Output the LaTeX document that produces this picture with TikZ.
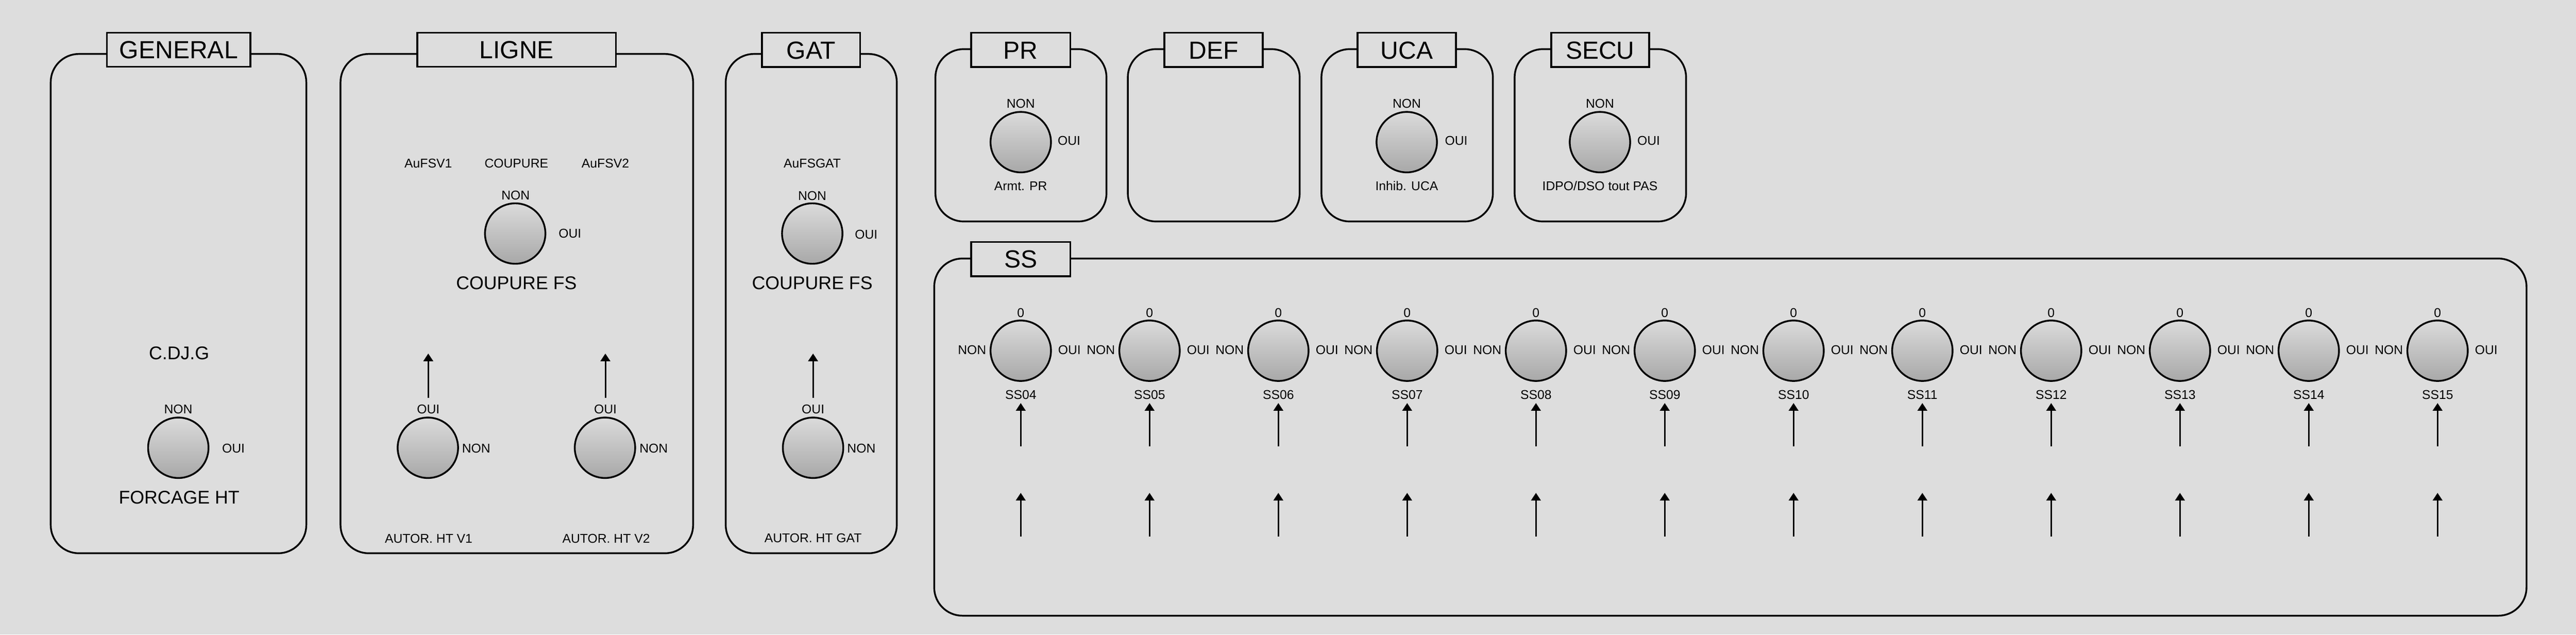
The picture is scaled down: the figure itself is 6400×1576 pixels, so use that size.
\documentclass[tikz,border=0pt]{standalone}
\usepackage{fontspec}
\setmainfont{Liberation Sans}
\usetikzlibrary{arrows.meta}
\definecolor{bg}{HTML}{DDDDDD}
\definecolor{ktop}{HTML}{DBDBDB}
\definecolor{kbot}{HTML}{A8A8A8}
\begin{document}
\begin{tikzpicture}[x=0.01cm, y=-0.01cm, line width=1.25pt,
  panel/.style={draw, rounded corners=0.7cm},
  ttl/.style={draw, fill=bg, minimum height=0.85cm, inner sep=0pt,
    font=\fontsize{17.5}{20}\selectfont, text height=12.5pt, text depth=0pt},
  knob/.style={circle, draw, minimum size=1.5cm, inner sep=0pt, top color=ktop, bottom color=kbot},
  lbl/.style={inner sep=0pt, font=\fontsize{9}{10}\selectfont, text height=6.45pt, text depth=0pt},
  mid/.style={inner sep=0pt, font=\fontsize{13}{15}\selectfont, text height=9.3pt, text depth=0pt},
  arr/.style={-{Triangle[length=5.4pt,width=6.8pt]}, line width=1.1pt}]
\fill[bg] (0,0) rectangle (6400,1576);
\useasboundingbox (0,0) rectangle (6400,1576);

% ---------- panels ----------
\draw[panel] (126,134) rectangle (761,1374);
\draw[panel] (846,134) rectangle (1722,1374);
\draw[panel] (1803,134) rectangle (2228,1374);
\draw[panel] (2324,122) rectangle (2749,550);
\draw[panel] (2802,122) rectangle (3229,550);
\draw[panel] (3283,122) rectangle (3709,550);
\draw[panel] (3763,122) rectangle (4189,550);
\draw[panel] (2321,642) rectangle (6277,1529);

% ---------- titles ----------
\node[ttl, minimum width=3.56cm] (tgen) at (444,123.5) {GENERAL};
\node[ttl, minimum width=4.93cm] (tlig) at (1283.5,123.5) {LIGNE};
\node[ttl, minimum width=2.44cm] (tgat) at (2015,124) {GAT};
\node[ttl, minimum width=2.46cm] (tpr) at (2536,124) {PR};
\node[ttl, minimum width=2.44cm] (tdef) at (3015,124) {DEF};
\node[ttl, minimum width=2.44cm] (tuca) at (3495,124) {UCA};
\node[ttl, minimum width=2.43cm] (tsecu) at (3975.5,124) {SECU};
\node[ttl, minimum width=2.46cm] (tss) at (2536,643.5) {SS};

% ---------- GENERAL ----------
\node[mid] (cdjg) at (445,877) {C.DJ.G};
\node[knob] (kgen) at (443,1112) {};
\node[lbl] (kgen-n) at (443,1016) {NON};
\node[lbl] (kgen-o) at (580,1113) {OUI};
\node[mid] (forc) at (445,1235) {FORCAGE HT};

% ---------- LIGNE ----------
\node[lbl] (aufsv1) at (1064,405) {AuFSV1};
\node[lbl] (coup) at (1283,405) {COUPURE};
\node[lbl] (aufsv2) at (1504,405) {AuFSV2};
\node[knob] (klig) at (1280,580) {};
\node[lbl] (klig-n) at (1281,485) {NON};
\node[lbl] (klig-o) at (1416,580) {OUI};
\node[mid] (cfs1) at (1283,703) {COUPURE FS};

\node[knob] (kv1) at (1063,1112) {};
\node[lbl] (kv1-o) at (1064,1016) {OUI};
\node[lbl] (kv1-n) at (1183,1113) {NON};
\coordinate (av1s) at (1064,988);
\coordinate (av1e) at (1064,878);
\draw[arr] (av1s) -- (av1e);
\node[lbl] (autv1) at (1065,1337) {AUTOR. HT V1};

\node[knob] (kv2) at (1503,1112) {};
\node[lbl] (kv2-o) at (1504,1016) {OUI};
\node[lbl] (kv2-n) at (1624,1113) {NON};
\coordinate (av2s) at (1504,988);
\coordinate (av2e) at (1504,878);
\draw[arr] (av2s) -- (av2e);
\node[lbl] (autv2) at (1506,1337) {AUTOR. HT V2};

% ---------- GAT ----------
\node[lbl] (aufsgat) at (2018,405) {AuFSGAT};
\node[knob] (kgat) at (2018,580) {};
\node[lbl] (kgat-n) at (2018,486) {NON};
\node[lbl] (kgat-o) at (2152,582) {OUI};
\node[mid] (cfs2) at (2018,702) {COUPURE FS};

\node[knob] (kgat2) at (2020,1112) {};
\node[lbl] (kgat2-o) at (2020,1016) {OUI};
\node[lbl] (kgat2-n) at (2140,1113) {NON};
\coordinate (agats) at (2020,988);
\coordinate (agate) at (2020,878);
\draw[arr] (agats) -- (agate);
\node[lbl] (autgat) at (2020,1336) {AUTOR. HT GAT};

% ---------- PR / UCA / SECU ----------
\node[knob] (kpr) at (2536,353) {};
\node[lbl] (kpr-n) at (2536,257) {NON};
\node[lbl] (kpr-o) at (2656,349) {OUI};
\node[lbl] (armt) at (2536,462) {Armt. PR};

\node[knob] (kuca) at (3495,353) {};
\node[lbl] (kuca-n) at (3495,257) {NON};
\node[lbl] (kuca-o) at (3618,349) {OUI};
\node[lbl] (inhib) at (3495,462) {Inhib. UCA};

\node[knob] (ksecu) at (3975,353) {};
\node[lbl] (ksecu-n) at (3975,257) {NON};
\node[lbl] (ksecu-o) at (4096,349) {OUI};
\node[lbl] (idpo) at (3975,462) {IDPO/DSO tout PAS};

% ---------- SS ----------
\foreach \i [count=\k from 0] in {04,05,06,07,08,09,10,11,12,13,14,15} {
  \node[knob] (ss\i) at (2536+320*\k,871) {};
  \node[lbl] (ss\i-z) at (2536+320*\k,777) {0};
  \node[lbl] (ss\i-n) at (2415+320*\k,869) {NON};
  \node[lbl] (ss\i-o) at (2657+320*\k,869) {OUI};
  \node[lbl] (ss\i-l) at (2536+320*\k,980) {SS\i};
  \coordinate (ss\i-a1s) at (2536+320*\k,1109);
  \coordinate (ss\i-a1e) at (2536+320*\k,1001);
  \draw[arr] (ss\i-a1s) -- (ss\i-a1e);
  \coordinate (ss\i-a2s) at (2536+320*\k,1333);
  \coordinate (ss\i-a2e) at (2536+320*\k,1224);
  \draw[arr] (ss\i-a2s) -- (ss\i-a2e);
}
\end{tikzpicture}
\end{document}
